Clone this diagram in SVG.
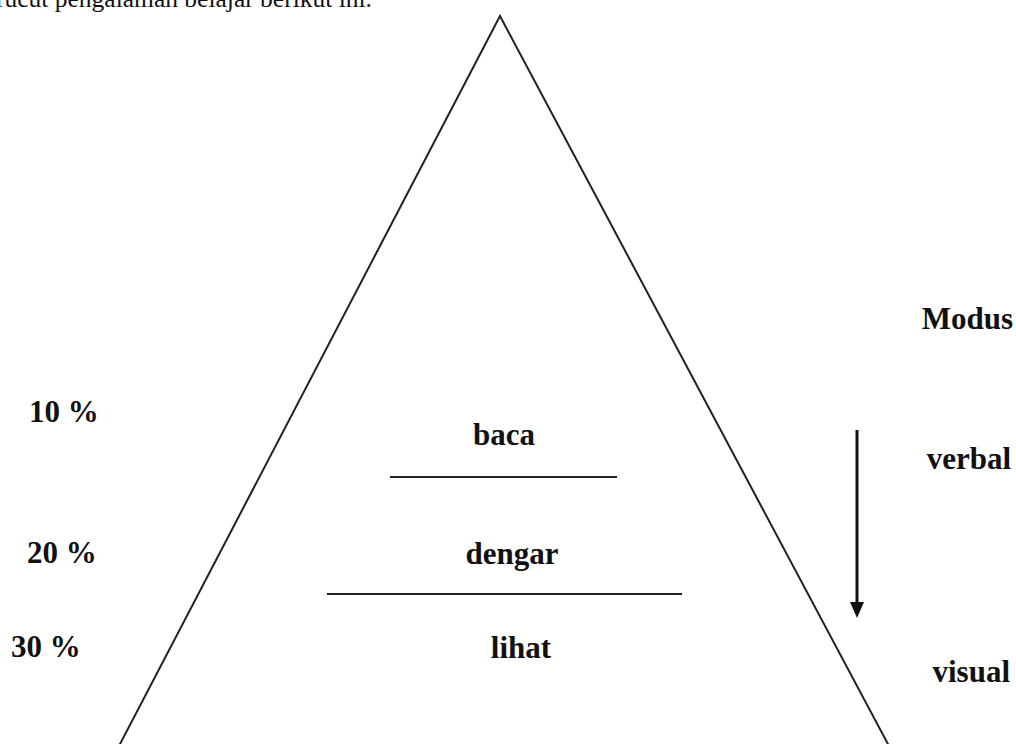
<svg xmlns="http://www.w3.org/2000/svg" width="1016" height="744" viewBox="0 0 1016 744">
<style>
.t{font-family:"Liberation Serif","Times New Roman",serif;font-weight:bold;font-size:31px;fill:#111}
.cap{font-family:"Liberation Serif","Times New Roman",serif;font-size:25.5px;fill:#111}
.ln{stroke:#222;stroke-width:2;fill:none}
</style>
<rect width="1016" height="744" fill="#fff"/>
<text class="cap" x="372" y="7" text-anchor="end">kerucut pengalaman belajar berikut ini.</text>
<g id="pyramid">
<polygon class="ln" points="500,16 119,746 889,746"/>
<line class="ln" x1="390" y1="477" x2="617" y2="477"/>
<line class="ln" x1="327" y1="594" x2="682" y2="594"/>
</g>
<g id="baca"><text class="t" x="504" y="445" text-anchor="middle">baca</text></g>
<g id="dengar"><text class="t" x="512" y="564" text-anchor="middle">dengar</text></g>
<g id="lihat"><text class="t" x="521" y="658" text-anchor="middle">lihat</text></g>
<g id="p10"><text class="t" x="29" y="422">10 %</text></g>
<g id="p20"><text class="t" x="27" y="563">20 %</text></g>
<g id="p30"><text class="t" x="11" y="657">30 %</text></g>
<g id="modus"><text class="t" x="1013" y="329" text-anchor="end">Modus</text></g>
<g id="verbal"><text class="t" x="1011" y="469" text-anchor="end">verbal</text></g>
<g id="visual"><text class="t" x="1010" y="682" text-anchor="end">visual</text></g>
<g id="connectors">
<line x1="857" y1="430" x2="857" y2="604" stroke="#111" stroke-width="3"/>
<path d="M850,602 L864,602 L857,618 Z" fill="#111"/>
</g>
</svg>
